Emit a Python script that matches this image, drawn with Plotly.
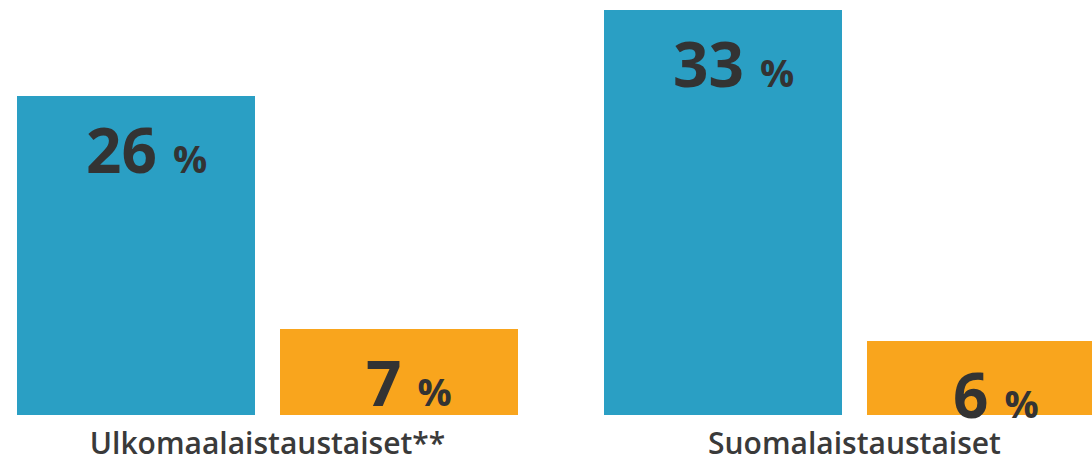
import plotly.graph_objects as go

categories = ["Ulkomaalaistaustaiset**", "Suomalaistaustaiset"]
series_a = [26, 33]
series_b = [7, 6]
colors = ["#2A9FC4", "#F9A51D"]

BAR_W = 0.4055
OFFS = [-0.4267, 0.0213]

fig = go.Figure()
for vals, col, off in [(series_a, colors[0], OFFS[0]), (series_b, colors[1], OFFS[1])]:
    fig.add_trace(go.Bar(x=categories, y=vals, width=BAR_W, offset=off,
                         marker=dict(color=col, line=dict(width=0)),
                         hoverinfo="skip", showlegend=False))
    for idx, v in enumerate(vals):
        fig.add_annotation(
            x=idx + off + BAR_W / 2, y=v, xref="x", yref="y",
            text=f"<b>{v}</b> <span style='font-size:38px'><b>%</b></span>",
            showarrow=False, yanchor="middle", xanchor="center",
            xshift=10, yshift=-53,
            font=dict(family="Open Sans", size=62, color="#333333"),
        )

fig.update_layout(
    width=1092, height=462,
    margin=dict(l=0, r=0, t=0, b=47),
    paper_bgcolor="white", plot_bgcolor="white",
    bargap=0, bargroupgap=0,
    xaxis=dict(type="category", range=[-0.4557, 1.4046], showgrid=False,
               showline=False, zeroline=False, ticks="", ticklabelstandoff=8,
               automargin=False,
               tickfont=dict(family="Open Sans", size=30, color="#3a3a3a", weight=600)),
    yaxis=dict(range=[0, 33.82], visible=False, showgrid=False, zeroline=False),
)
fig.write_html(
    "out.html",
    config={"displayModeBar": False},
    post_script="document.body.style.margin='0';document.body.style.overflow='hidden';",
)
